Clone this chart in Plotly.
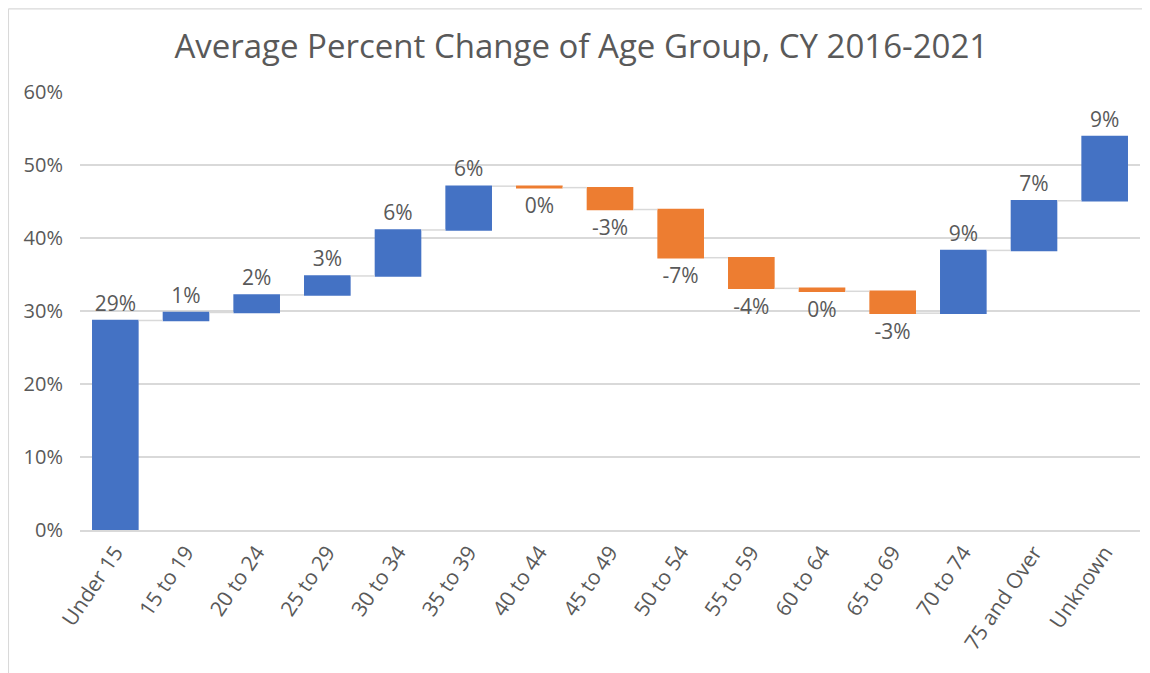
import plotly.graph_objects as go

categories = ["Under 15", "15 to 19", "20 to 24", "25 to 29", "30 to 34", "35 to 39",
              "40 to 44", "45 to 49", "50 to 54", "55 to 59", "60 to 64", "65 to 69",
              "70 to 74", "75 and Over", "Unknown"]
changes = [28.7, 1.1, 2.4, 2.6, 6.3, 6.0, -0.2, -3.0, -6.6, -4.2, -0.4, -3.0, 8.6, 6.8, 8.8]
labels = [f"{round(v)}%" for v in changes]

FONT = "Open Sans"
GRAY = "#595959"

fig = go.Figure(go.Waterfall(
    x=categories,
    y=changes,
    measure=["relative"] * len(changes),
    text=labels,
    textposition="outside",
    textfont=dict(family=FONT, size=21, color=GRAY),
    increasing=dict(marker=dict(color="#4472C4", line=dict(color="#4472C4", width=0))),
    decreasing=dict(marker=dict(color="#ED7D31", line=dict(color="#ED7D31", width=0))),
    connector=dict(line=dict(color="#D9D9D9", width=1.5)),
    cliponaxis=False,
    hoverinfo="x+y",
))

fig.update_layout(
    width=1142, height=665,
    margin=dict(l=72, r=10, t=84, b=143),
    paper_bgcolor="white", plot_bgcolor="white",
    waterfallgap=0.34,
    showlegend=False,
    title=dict(text="Average Percent Change of Age Group, CY 2016-2021",
               x=0.502, xanchor="center", y=0.942, yanchor="middle",
               font=dict(family=FONT, size=33, color=GRAY)),
    font=dict(family=FONT, color=GRAY),
    xaxis=dict(tickangle=-56, tickfont=dict(family=FONT, size=21, color=GRAY),
               showgrid=False, showline=True, linecolor="#D9D9D9", linewidth=1.5,
               ticks=""),
    yaxis=dict(range=[0, 60], dtick=10, ticksuffix="%",
               tickfont=dict(family=FONT, size=20, color=GRAY),
               gridcolor="#D9D9D9", gridwidth=1.5, zeroline=False,
               showline=False, ticks="outside", ticklen=12, tickcolor="rgba(0,0,0,0)"),
    shapes=[
        dict(type="line", xref="paper", yref="paper",
             x0=-0.0675, x1=1.05, y0=1.19, y1=1.19,
             line=dict(color="#D9D9D9", width=1.2), layer="below"),
        dict(type="line", xref="paper", yref="paper",
             x0=-0.0675, x1=-0.0675, y0=-0.4, y1=1.19,
             line=dict(color="#D9D9D9", width=1.2), layer="below"),
    ],
)

fig.write_html("out.html")
